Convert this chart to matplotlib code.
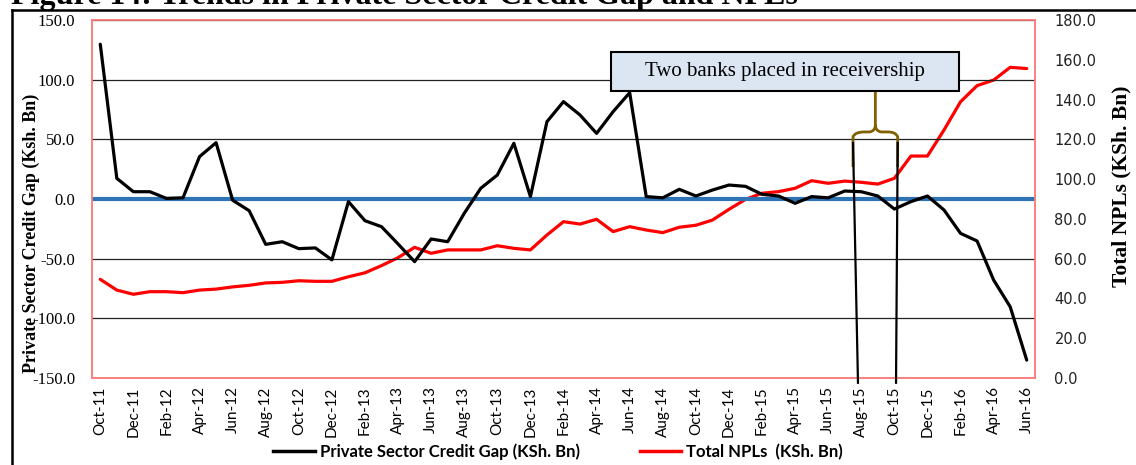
#!/usr/bin/env python3
"""Private sector credit gap vs total NPLs, Oct-11 to Jun-16."""
import pandas as pd
import matplotlib
matplotlib.use("Agg")
import matplotlib.pyplot as plt
from matplotlib.patches import Rectangle, PathPatch
from matplotlib.path import Path
from matplotlib.lines import Line2D

months = pd.date_range("2011-10-01", periods=57, freq="MS").strftime("%b-%y").tolist()

credit_gap = [129.7, 17.3, 6.1, 6.1, 0.5, 1.0, 35.5, 47.2, -1.0, -9.8, -38.0, -35.8,
              -41.6, -41.0, -51.0, -2.2, -18.2, -23.2, -37.7, -52.5, -33.5, -35.8,
              -12.0, 9.0, 20.1, 46.7, 2.0, 64.8, 81.6, 70.4, 55.0, 73.2, 89.1, 2.0,
              1.0, 8.1, 2.5, 7.5, 11.7, 10.6, 3.9, 2.5, -3.6, 2.0, 1.0, 6.7, 6.1,
              2.5, -8.4, -2.2, 2.5, -9.2, -28.8, -35.2, -67.9, -90.3, -135.0]

total_npls = [49.6, 44.2, 42.1, 43.4, 43.4, 42.9, 44.2, 44.7, 45.8, 46.6, 47.8, 48.1,
              48.9, 48.6, 48.6, 50.9, 52.9, 56.5, 60.5, 65.7, 62.7, 64.4, 64.4, 64.4,
              66.5, 65.2, 64.4, 71.9, 78.6, 77.4, 79.8, 73.6, 76.1, 74.4, 73.1, 75.8,
              76.8, 79.4, 84.8, 89.8, 92.9, 93.7, 95.4, 99.2, 97.9, 99.0, 98.4, 97.5,
              100.4, 111.6, 111.6, 124.7, 138.9, 147.0, 149.8, 156.2, 155.6]

left_ticks = [-150, -100, -50, 0, 50, 100, 150]
right_ticks = [0, 20, 40, 60, 80, 100, 120, 140, 160, 180]

SERIF = "Liberation Serif"
PINK = "#FF7F7F"

x = list(range(len(months)))

fig = plt.figure(figsize=(11.36, 4.65), dpi=100)
ax = fig.add_axes([92 / 1136, 1 - 378 / 465, 943 / 1136, 358 / 465])
ax2 = ax.twinx()
ax.set_zorder(ax2.get_zorder() + 1)
ax.patch.set_visible(False)

# lines
ax2.plot(x, total_npls, color="#FF0000", lw=2.3, solid_capstyle="round",
         label="Total NPLs  (KSh. Bn)")
ax.axhline(0, color="#2E74B5", lw=3.0, zorder=2)
ax.plot(x, credit_gap, color="black", lw=2.3, solid_capstyle="round", zorder=3,
        label="Private Sector Credit Gap (KSh. Bn)")

ax.set_xlim(-0.5, len(months) - 0.5)
ax.set_ylim(-150, 150)
ax2.set_ylim(0, 180)

ax.set_yticks(left_ticks)
ax.set_yticklabels([f"{v:.1f}" for v in left_ticks], fontfamily=SERIF, fontsize=12)
ax2.set_yticks(right_ticks)
ax2.set_yticklabels([f"{v:.1f}" for v in right_ticks], fontfamily="DejaVu Sans",
                    fontsize=10.5, color="#222222")
ax.set_xticks(x[::2])
ax.set_xticklabels(months[::2], rotation=90, fontfamily="Lato", fontsize=11)

ax.tick_params(axis="y", length=0, pad=12)
ax.tick_params(axis="x", length=0, pad=6)
ax2.tick_params(axis="y", length=0, pad=14)

ax.yaxis.grid(True, color="#222222", lw=0.9)
ax.set_axisbelow(True)

for a in (ax, ax2):
    for s in a.spines.values():
        s.set_color(PINK)
        s.set_linewidth(1.2)

ax.set_ylabel("Private Sector Credit Gap (Ksh. Bn)", fontfamily=SERIF,
              fontweight="bold", fontsize=13)
ax.yaxis.set_label_coords(-0.055, 0.405)
ax2.set_ylabel("Total NPLs (KSh. Bn)", fontfamily=SERIF, fontweight="bold",
               fontsize=15.5, rotation=90)
ax2.yaxis.set_label_coords(1.081, 0.536)

# annotation: text box, brace and the two marker lines
box = Rectangle((30.9, 90.5), 21.0, 32.7, facecolor="#DCE6F2", edgecolor="black",
                lw=1.5, clip_on=False, zorder=6)
ax.add_patch(box)
ax.text(41.4, 106.5, "Two banks placed in receivership", ha="center", va="center",
        fontfamily=SERIF, fontsize=15, zorder=7)

brace = Path([(45.5, 26.8), (45.5, 52.0), (45.6, 56.2), (46.2, 56.2),
              (46.5, 56.2), (46.85, 57.0), (46.85, 62.0),
              (46.85, 91.0),
              (46.85, 62.0), (46.85, 57.0), (47.2, 56.2), (47.6, 56.2),
              (48.1, 56.2), (48.2, 52.0), (48.2, 26.8)],
             [Path.MOVETO, Path.LINETO, Path.CURVE3, Path.CURVE3,
              Path.LINETO, Path.CURVE3, Path.CURVE3,
              Path.LINETO,
              Path.MOVETO, Path.CURVE3, Path.CURVE3, Path.LINETO,
              Path.CURVE3, Path.CURVE3, Path.LINETO])
ax.add_patch(PathPatch(brace, facecolor="none", edgecolor="#806000", lw=2.0,
                       clip_on=False, zorder=5))

for (x0, x1) in [(45.5, 45.8), (48.2, 48.1)]:
    ax.add_line(Line2D([x0, x1], [46.9, -154.0], color="black", lw=1.6,
                       clip_on=False, zorder=5))

# legend
h1 = Line2D([], [], color="black", lw=2.5)
h2 = Line2D([], [], color="#FF0000", lw=2.5)
fig.legend([h1, h2], ["Private Sector Credit Gap (KSh. Bn)", "Total NPLs  (KSh. Bn)"],
           loc="center", bbox_to_anchor=(558 / 1136, 1 - 452 / 465), ncol=2,
           frameon=False, handlelength=2.5, columnspacing=3.6, handletextpad=0.3,
           prop={"family": "Lato", "weight": "bold", "size": 12})

# outer frame and the cut-off title
fig.add_artist(Line2D([12 / 1136, 12 / 1136], [0, 1 - 10 / 465], color="black",
                      lw=1.8, transform=fig.transFigure))
fig.add_artist(Line2D([12 / 1136, 1], [1 - 10 / 465, 1 - 10 / 465], color="black",
                      lw=1.8, transform=fig.transFigure))
fig.text(11 / 1136, 1 - 4 / 465, "Figure 14: Trends in Private Sector Credit Gap and NPLs",
         ha="left", va="baseline", fontfamily=SERIF, fontweight="bold", fontsize=23)

fig.savefig("out.png", dpi=100)
